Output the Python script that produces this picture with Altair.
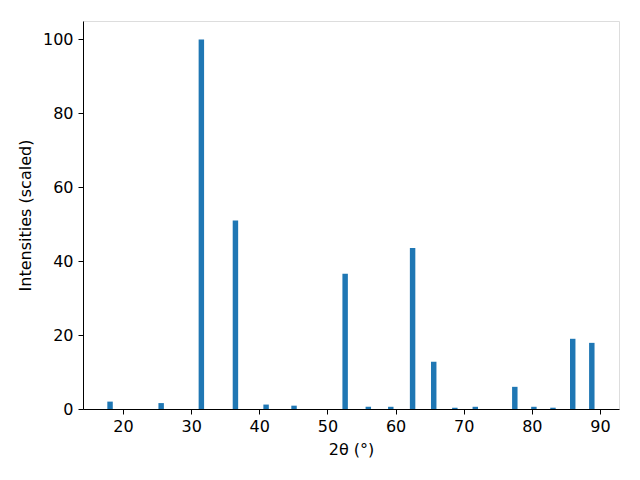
import altair as alt
import pandas as pd

two_theta = [18.1, 25.6, 31.5, 36.5, 41.0, 45.1, 52.6, 56.0, 59.3, 62.5,
             65.6, 68.7, 71.7, 77.5, 80.3, 83.1, 86.0, 88.8]
intensity = [2.0, 1.6, 100.0, 51.0, 1.2, 0.9, 36.6, 0.6, 0.6, 43.6,
             12.8, 0.35, 0.6, 6.0, 0.6, 0.35, 19.0, 17.9]

df = pd.DataFrame({"tt": two_theta, "I": intensity})
bar_w = 0.8
FS = 16

chart = alt.Chart(df).transform_calculate(
    x0=f"datum.tt - {bar_w/2}", x1=f"datum.tt + {bar_w/2}", base="0"
).mark_bar(color="#1f77b4").encode(
    x=alt.X("x0:Q", scale=alt.Scale(domain=[14.13, 92.79], nice=False, zero=False, padding=0),
            axis=alt.Axis(title="2θ (°)", values=[20, 30, 40, 50, 60, 70, 80, 90],
                          grid=False, tickColor="black", domainColor="black",
                          labelColor="black", titleColor="black", tickSize=5,
                          labelFontSize=FS, titleFontSize=FS, titleFontWeight="normal",
                          labelFont="DejaVu Sans", titleFont="DejaVu Sans",
                          labelPadding=4, titlePadding=7)),
    x2="x1:Q",
    y=alt.Y("I:Q", scale=alt.Scale(domain=[0, 105], nice=False, padding=0),
            axis=alt.Axis(title="Intensities (scaled)", values=[0, 20, 40, 60, 80, 100],
                          grid=False, tickColor="black", domainColor="black",
                          labelColor="black", titleColor="black", tickSize=5,
                          labelFontSize=FS, titleFontSize=FS, titleFontWeight="normal",
                          labelFont="DejaVu Sans", titleFont="DejaVu Sans",
                          labelPadding=5, titlePadding=9)),
    y2="base:Q",
).properties(
    width=536, height=388,
    autosize=alt.AutoSizeParams(type="none"),
    padding={"left": 75, "top": 13, "right": 13, "bottom": 55},
).configure_view(stroke="black", strokeWidth=1).configure(background="white")

chart.save("out.html", embed_options={"renderer": "svg", "actions": False})
